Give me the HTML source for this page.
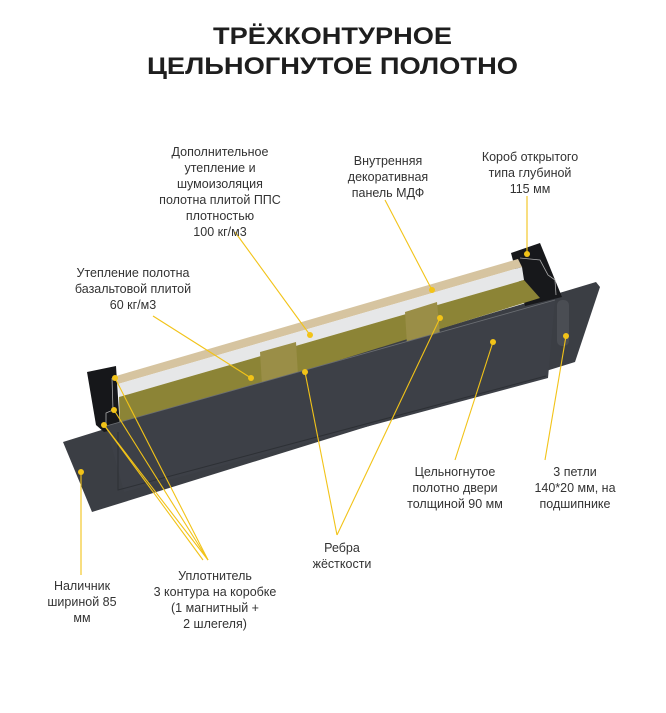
<!DOCTYPE html>
<html><head><meta charset="utf-8"><style>
html,body{margin:0;padding:0;background:#fff;width:666px;height:713px;overflow:hidden}
svg{display:block}
text{font-family:"Liberation Sans",sans-serif}
.t{font-size:24.5px;font-weight:bold;fill:#1e1e1e}
.l{font-size:12.5px;fill:#333;text-anchor:middle}
.y{stroke:#f2c318;stroke-width:1.1;fill:none}
.d{fill:#f2c318}
</style></head><body>
<svg width="666" height="713" viewBox="0 0 666 713">
<text class="t" x="213" y="44" textLength="239" lengthAdjust="spacingAndGlyphs">ТРЁХКОНТУРНОЕ</text>
<text class="t" x="147" y="74" textLength="371" lengthAdjust="spacingAndGlyphs">ЦЕЛЬНОГНУТОЕ ПОЛОТНО</text>

<!-- trim -->
<polygon points="63,442 108,428 596,282 600,287 575,362 92,512" fill="#3b3e44"/>
<!-- right frame -->
<polygon points="511,253 540,243 562,297 525,306" fill="#17181b"/>
<polyline points="520,258 540,260 548,275 555,280 556,295" stroke="#aaa" stroke-width="0.8" fill="none"/>
<!-- left frame -->
<polygon points="87,372 116,366 120,428 104,432 96,425" fill="#16171a"/>
<polyline points="112,378 113,410 106,413 106,425" stroke="#aaa" stroke-width="0.8" fill="none"/>
<!-- MDF -->
<polygon points="116,376 518,259 522,267 118,384" fill="#d6c4a0"/>
<!-- PPS -->
<polygon points="118,384 522,267 524,280 119,397" fill="#e6e7e8"/>
<!-- wool -->
<polygon points="119,397 524,280 540,298 120,428" fill="#8c8436"/>
<polygon points="260,352 296,342 298,375 262,385" fill="#9a8e47"/>
<polygon points="405,312 437,302 440,335 407,345" fill="#9a8e47"/>
<!-- front panel -->
<polygon points="106,426 555,300 548,378 124,492" fill="#3d4047"/>
<polyline points="118,432 118,490 546,376" stroke="#2d3035" stroke-width="1" fill="none"/>
<line x1="106" y1="426" x2="555" y2="300" stroke="#6b6e73" stroke-width="0.8"/>
<!-- hinge -->
<rect x="557" y="300" width="12" height="46" rx="5" fill="#4a4d53"/>

<!-- leader lines -->
<line class="y" x1="235" y1="232" x2="310" y2="335"/><circle class="d" cx="310" cy="335" r="3"/>
<line class="y" x1="385" y1="200" x2="432" y2="290"/><circle class="d" cx="432" cy="290" r="3"/>
<line class="y" x1="527" y1="196" x2="527" y2="254"/><circle class="d" cx="527" cy="254" r="3"/>
<line class="y" x1="153" y1="316" x2="251" y2="378"/><circle class="d" cx="251" cy="378" r="3"/>
<line class="y" x1="337" y1="535" x2="305" y2="372"/><circle class="d" cx="305" cy="372" r="3"/>
<line class="y" x1="337" y1="535" x2="440" y2="318"/><circle class="d" cx="440" cy="318" r="3"/>
<line class="y" x1="455" y1="460" x2="493" y2="342"/><circle class="d" cx="493" cy="342" r="3"/>
<line class="y" x1="545" y1="460" x2="566" y2="336"/><circle class="d" cx="566" cy="336" r="3"/>
<line class="y" x1="81" y1="575" x2="81" y2="472"/><circle class="d" cx="81" cy="472" r="3"/>
<line class="y" x1="208" y1="560" x2="115" y2="378"/><circle class="d" cx="115" cy="378" r="3"/>
<line class="y" x1="208" y1="560" x2="114" y2="410"/><circle class="d" cx="114" cy="410" r="3"/>
<line class="y" x1="208" y1="560" x2="104" y2="425"/><circle class="d" cx="104" cy="425" r="3"/>
<line class="y" x1="203" y1="560" x2="104" y2="425"/>

<!-- labels -->
<text class="l"><tspan x="220" y="156">Дополнительное</tspan><tspan x="220" y="172">утепление и</tspan><tspan x="220" y="188">шумоизоляция</tspan><tspan x="220" y="204">полотна плитой ППС</tspan><tspan x="220" y="220">плотностью</tspan><tspan x="220" y="236">100 кг/м3</tspan></text>
<text class="l"><tspan x="388" y="165">Внутренняя</tspan><tspan x="388" y="181">декоративная</tspan><tspan x="388" y="197">панель МДФ</tspan></text>
<text class="l"><tspan x="530" y="161">Короб открытого</tspan><tspan x="530" y="177">типа глубиной</tspan><tspan x="530" y="193">115 мм</tspan></text>
<text class="l"><tspan x="133" y="277">Утепление полотна</tspan><tspan x="133" y="293">базальтовой  плитой</tspan><tspan x="133" y="309">60 кг/м3</tspan></text>
<text class="l"><tspan x="455" y="476">Цельногнутое</tspan><tspan x="455" y="492">полотно двери</tspan><tspan x="455" y="508">толщиной 90 мм</tspan></text>
<text class="l"><tspan x="575" y="476">3 петли</tspan><tspan x="575" y="492">140*20 мм, на</tspan><tspan x="575" y="508">подшипнике</tspan></text>
<text class="l"><tspan x="342" y="552">Ребра</tspan><tspan x="342" y="568">жёсткости</tspan></text>
<text class="l"><tspan x="215" y="580">Уплотнитель</tspan><tspan x="215" y="596">3 контура на коробке</tspan><tspan x="215" y="612">(1 магнитный +</tspan><tspan x="215" y="628">2 шлегеля)</tspan></text>
<text class="l"><tspan x="82" y="590">Наличник</tspan><tspan x="82" y="606">шириной 85</tspan><tspan x="82" y="622">мм</tspan></text>
</svg>
</body></html>
